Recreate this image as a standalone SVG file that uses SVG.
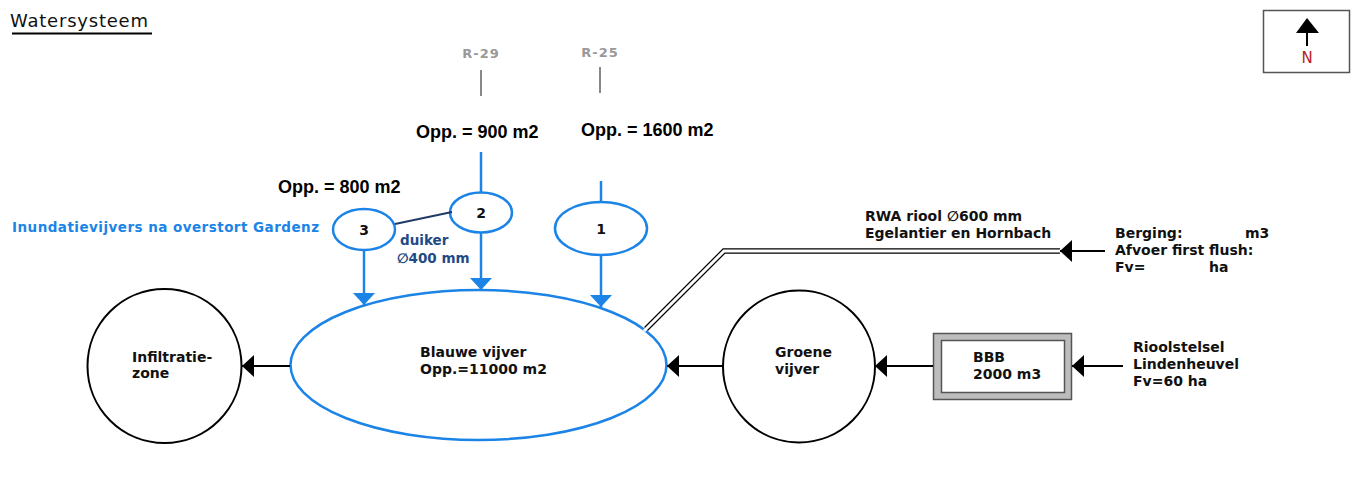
<svg xmlns="http://www.w3.org/2000/svg" width="1357" height="484" viewBox="0 0 1357 484">
<style>
.t{font-family:"DejaVu Sans",Verdana,sans-serif;font-size:14px;font-weight:bold;fill:#111}
.opp{font-family:"Liberation Sans",Arial,sans-serif;font-size:18px;font-weight:bold;fill:#000}
.r{font-family:"DejaVu Sans",Verdana,sans-serif;font-size:13px;font-weight:bold;fill:#999;letter-spacing:1px}
.blue{fill:none;stroke:#1b84e6;stroke-width:2.5}
.blk{fill:none;stroke:#000;stroke-width:2}
.bl{stroke:#1b84e6;stroke-width:2.5;fill:none}
.k{stroke:#000;stroke-width:2;fill:none}
</style>
<defs>
<marker id="ab" viewBox="0 0 12 22" refX="12" refY="11" markerWidth="12" markerHeight="22" markerUnits="userSpaceOnUse" orient="auto"><path d="M0,0 L12,11 L0,22 Z" fill="#1b84e6"/></marker>
<marker id="ak" viewBox="0 0 12 22" refX="12" refY="11" markerWidth="12" markerHeight="22" markerUnits="userSpaceOnUse" orient="auto"><path d="M0,0 L12,11 L0,22 Z" fill="#000"/></marker>
</defs>
<rect width="1357" height="484" fill="#fff"/>

<g id="title">
<text x="10" y="27" font-family="DejaVu Sans,Verdana,sans-serif" font-size="18" textLength="138" fill="#111">Watersysteem</text>
<line x1="12" y1="33.5" x2="152" y2="33.5" stroke="#000" stroke-width="2"/>
</g>

<g id="north">
<rect x="1263.5" y="10.5" width="86" height="62" fill="#fff" stroke="#555" stroke-width="1.5"/>
<path d="M1307,18 L1319,33 L1296,33 Z" fill="#000"/>
<line x1="1307" y1="33" x2="1307" y2="46" stroke="#000" stroke-width="2"/>
<text x="1307" y="63" text-anchor="middle" font-family="DejaVu Sans,sans-serif" font-size="15" fill="#b71c1c">N</text>
</g>

<g id="labels">
<text class="r" x="481" y="58" text-anchor="middle">R-29</text>
<text class="r" x="600" y="57" text-anchor="middle">R-25</text>
<text class="opp" x="416" y="138">Opp. = 900 m2</text>
<text class="opp" x="581" y="136">Opp. = 1600 m2</text>
<text class="opp" x="278" y="193">Opp. = 800 m2</text>
<text x="12" y="232" font-family="DejaVu Sans,Verdana,sans-serif" font-size="13.5" font-weight="bold" fill="#1b84e6" textLength="307">Inundatievijvers na overstort Gardenz</text>
<text x="400" y="245" font-family="DejaVu Sans,Verdana,sans-serif" font-size="13.5" font-weight="bold" fill="#1f4a85">duiker</text>
<text x="397" y="263" font-family="DejaVu Sans,Verdana,sans-serif" font-size="13.5" font-weight="bold" fill="#1f4a85">∅400 mm</text>
<text class="t" x="865" y="221">RWA riool ∅600 mm</text>
<text class="t" x="865" y="238">Egelantier en Hornbach</text>
<text class="t" x="1115" y="238">Berging:</text>
<text class="t" x="1245" y="238">m3</text>
<text class="t" x="1115" y="255">Afvoer first flush:</text>
<text class="t" x="1115" y="272">Fv=</text>
<text class="t" x="1209" y="272">ha</text>
<text class="t" x="1133" y="352">Rioolstelsel</text>
<text class="t" x="1133" y="369">Lindenheuvel</text>
<text class="t" x="1133" y="386">Fv=60 ha</text>
</g>

<g id="node-3">
<ellipse class="blue" cx="364" cy="229.5" rx="31" ry="20.5" fill="#fff"/>
<text class="t" x="364" y="235" text-anchor="middle" font-size="13">3</text>
</g>
<g id="node-2">
<ellipse class="blue" cx="481" cy="212.5" rx="31" ry="20" fill="#fff"/>
<text class="t" x="481" y="218" text-anchor="middle" font-size="13">2</text>
</g>
<g id="node-1">
<ellipse class="blue" cx="601" cy="228.5" rx="46" ry="26.5" fill="#fff"/>
<text class="t" x="601" y="234" text-anchor="middle" font-size="13">1</text>
</g>
<g id="node-blauwe">
<ellipse class="blue" cx="478.5" cy="365" rx="188" ry="75"/>
<text class="t" x="420" y="357">Blauwe vijver</text>
<text class="t" x="420" y="374">Opp.=11000 m2</text>
</g>
<g id="node-infiltratie">
<circle class="blk" cx="164.5" cy="366" r="77"/>
<text class="t" x="132" y="362">Infiltratie-</text>
<text class="t" x="132" y="378">zone</text>
</g>
<g id="node-groene">
<circle class="blk" cx="799" cy="366.5" r="76"/>
<text class="t" x="775" y="357">Groene</text>
<text class="t" x="775" y="374">vijver</text>
</g>
<g id="node-bbb">
<rect x="933.5" y="333.5" width="138" height="66" fill="#bdbdbd" stroke="#555" stroke-width="1.5"/>
<rect x="941.5" y="340.5" width="123" height="52" fill="#fff" stroke="#555" stroke-width="1.5"/>
<text class="t" x="973" y="362">BBB</text>
<text class="t" x="973" y="379">2000 m3</text>
</g>

<g id="connectors">
<line x1="481" y1="70" x2="481" y2="96" stroke="#888" stroke-width="2"/>
<line x1="600" y1="67" x2="600" y2="93" stroke="#888" stroke-width="2"/>
<line class="bl" x1="481" y1="152" x2="481" y2="192.5"/>
<line class="bl" x1="601" y1="181" x2="601" y2="202"/>
<line x1="395" y1="224" x2="452" y2="212" stroke="#1f3a66" stroke-width="2"/>
<line class="bl" x1="364" y1="250" x2="364" y2="305" marker-end="url(#ab)"/>
<line class="bl" x1="481" y1="232.5" x2="481" y2="290" marker-end="url(#ab)"/>
<line class="bl" x1="601" y1="255" x2="601" y2="307" marker-end="url(#ab)"/>
<path d="M1060,251 L724,251 L646,329" fill="none" stroke="#000" stroke-width="5.5"/>
<path d="M1062,251 L724,251 L644,331" fill="none" stroke="#fff" stroke-width="3"/>
<line class="k" x1="1105" y1="251" x2="1060" y2="251" marker-end="url(#ak)"/>
<line class="k" x1="290" y1="366" x2="242" y2="366" marker-end="url(#ak)"/>
<line class="k" x1="723" y1="366" x2="667" y2="366" marker-end="url(#ak)"/>
<line class="k" x1="933" y1="366" x2="875" y2="366" marker-end="url(#ak)"/>
<line class="k" x1="1123" y1="366" x2="1072" y2="366" marker-end="url(#ak)"/>
</g>
</svg>
